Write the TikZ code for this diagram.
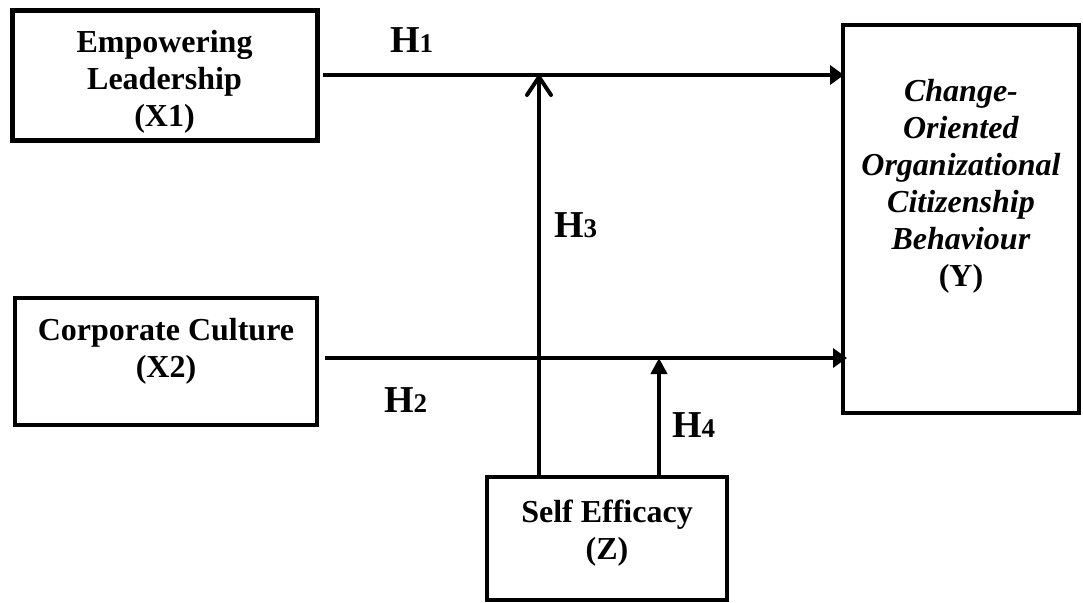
\documentclass[tikz,border=0pt]{standalone}
\usepackage{fontspec}
\setmainfont{Liberation Serif}
\usetikzlibrary{arrows.meta}
\newcommand{\Hyp}[1]{\fontsize{19}{22}\selectfont H{\fontsize{13.5}{16}\selectfont #1}}

\begin{document}
\begin{tikzpicture}[
    x=0.5pt, y=-0.5pt, line width=2pt,
    font=\fontsize{16}{18.5}\selectfont\bfseries,
    var/.style={draw, align=center, inner sep=0pt},
    hyp/.style={anchor=base west, inner sep=0pt},
    link/.style={-{Triangle[length=7pt,width=9.5pt]}},
    moder/.style={-{Straight Barb[length=9pt,width=12pt,line cap=round,line join=round]}}
]
    \useasboundingbox (0,0) rectangle (1083,602);
    \node[var, line width=2.5pt, minimum width=152.5pt, minimum height=65pt, text height=55pt] (lead) at (164.5,75) {Empowering\\Leadership\\(X1)};
    \node[var, minimum width=151pt, minimum height=63.5pt, text depth=14pt] (cult) at (166,361.5) {Corporate Culture\\(X2)};
    \node[var, minimum width=118pt, minimum height=194pt, text depth=36.5pt] (ocb) at (961,219)
        {\textit{Change-}\\\textit{Oriented}\\\textit{Organizational}\\\textit{Citizenship}\\\textit{Behaviour}\\(Y)};
    \node[var, minimum width=120pt, minimum height=61.5pt, text depth=8.5pt] (eff) at (607,538.5) {Self Efficacy\\(Z)};
    % direct paths
    \draw[link] ([xshift=1.5pt]lead.east) -- ([xshift=1.5pt]lead.east -| ocb.west);
    \draw[link] ([xshift=3pt,yshift=1.75pt]cult.east) -- ([xshift=3pt,yshift=1.75pt]cult.east -| ocb.west);
    % moderation
    \coordinate (j1) at (539,75);
    \coordinate (j2) at (659,358);
    \draw[moder] (eff.north -| j1) -- (j1);
    \draw[-{Triangle[length=8pt,width=8pt]}] (eff.north -| j2) -- (j2);
    \foreach \n/\pos in {1/{(388,52)},2/{(382,412)},3/{(552,237)},4/{(670,437)}}
        \node[hyp] (h\n) at \pos {\Hyp{\n}};
\end{tikzpicture}
\end{document}
